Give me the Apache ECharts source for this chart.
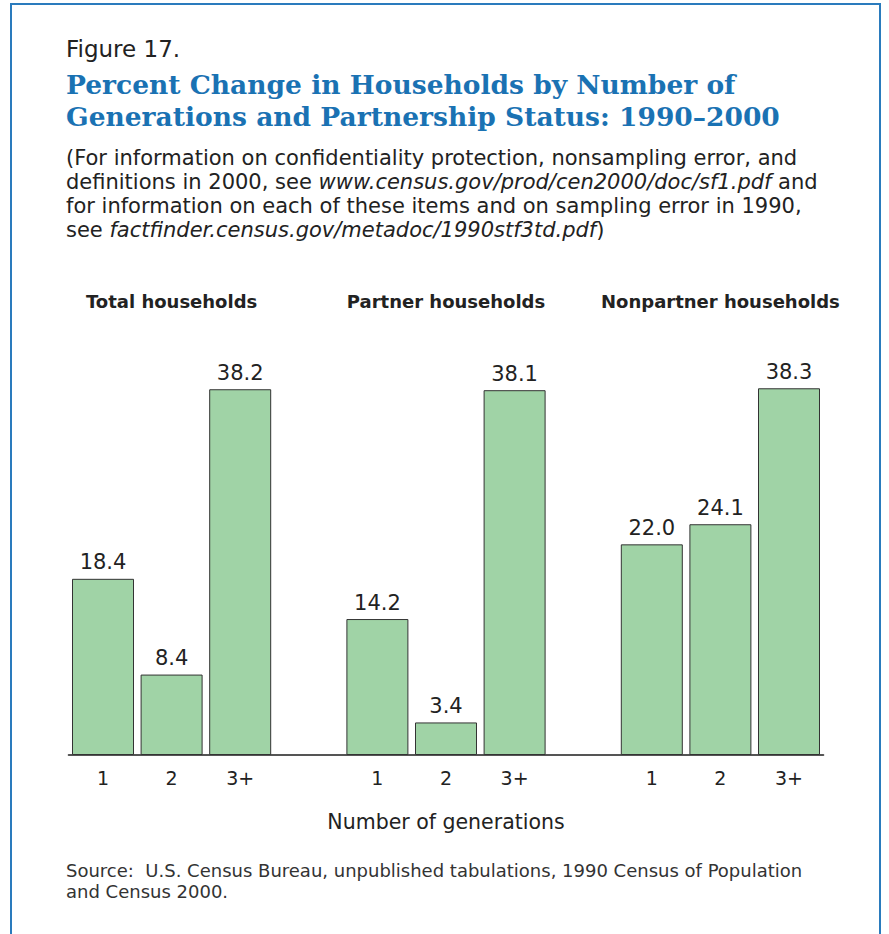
<!DOCTYPE html>
<html lang="en">
<head>
  <meta charset="UTF-8">
  <title>Figure 17. Percent Change in Households</title>
  <script src="https://cdn.jsdelivr.net/npm/echarts/dist/echarts.min.js"></script>
  <style>
    html, body {
      margin: 0;
      padding: 0;
      background: #ffffff;
    }
    #chart {
      width: 889px;
      height: 934px;
    }
  </style>
</head>
<body>
  <div id="chart"></div>

  <script>
    // data
    const groupNames = ['Total households', 'Partner households', 'Nonpartner households'];
    const generations = ['1', '2', '3+'];
    const totalValues = [18.4, 8.4, 38.2];
    const partnerValues = [14.2, 3.4, 38.1];
    const nonpartnerValues = [22.0, 24.1, 38.3];

    const sansFont = "'DejaVu Sans', sans-serif";
    const serifFont = "'DejaVu Serif', serif";
    const blue = '#1a72b3';

    // one category axis, with an empty slot between groups
    const categories = [];
    const headings = [];
    const values = [];
    [totalValues, partnerValues, nonpartnerValues].forEach(function (group, g) {
      if (g > 0) {
        categories.push('');
        headings.push('');
        values.push(null);
      }
      generations.forEach(function (gen, i) {
        categories.push(gen);
        headings.push(i === 1 ? groupNames[g] : '');
        values.push(group[i]);
      });
    });

    const chart = echarts.init(document.getElementById('chart'), null, { renderer: 'svg' });

    const option = {
      animation: false,
      title: [
        {
          text: 'Figure 17.',
          left: 66,
          top: 37,
          padding: 0,
          textStyle: { fontFamily: sansFont, fontSize: 23, fontWeight: 'normal', color: '#222' }
        },
        {
          text: 'Percent Change in Households by Number of\nGenerations and Partnership Status: 1990–2000',
          left: 66,
          top: 68,
          padding: 0,
          textStyle: { fontFamily: serifFont, fontSize: 26.5, fontWeight: 'bold', color: blue, lineHeight: 32 }
        },
        {
          text: '(For information on confidentiality protection, nonsampling error, and\n' +
                'definitions in 2000, see {i|www.census.gov/prod/cen2000/doc/sf1.pdf} and\n' +
                'for information on each of these items and on sampling error in 1990,\n' +
                'see {i|factfinder.census.gov/metadoc/1990stf3td.pdf})',
          left: 66,
          top: 146,
          padding: 0,
          textStyle: {
            fontFamily: sansFont, fontSize: 21, fontWeight: 'normal', color: '#222', lineHeight: 24,
            rich: {
              i: { fontFamily: sansFont, fontSize: 21, fontStyle: 'italic', color: '#222', lineHeight: 24 }
            }
          }
        },
        {
          text: 'Source:  U.S. Census Bureau, unpublished tabulations, 1990 Census of Population\nand Census 2000.',
          left: 66,
          top: 860,
          padding: 0,
          textStyle: { fontFamily: sansFont, fontSize: 18, fontWeight: 'normal', color: '#333', lineHeight: 21 }
        }
      ],
      graphic: [
        {
          type: 'rect',
          shape: { x: 11, y: 4, width: 869, height: 980 },
          style: { fill: 'none', stroke: '#2a7bbd', lineWidth: 2 },
          silent: true
        }
      ],
      grid: {
        left: 68.7,
        width: 754.6,
        top: 372,
        height: 383
      },
      xAxis: [
        {
          type: 'category',
          data: categories,
          position: 'bottom',
          axisLine: { lineStyle: { color: '#555', width: 2 } },
          axisTick: { show: false },
          axisLabel: {
            interval: 0,
            margin: 13,
            fontFamily: sansFont,
            fontSize: 19,
            color: '#222'
          },
          name: 'Number of generations',
          nameLocation: 'middle',
          nameGap: 56,
          nameTextStyle: { fontFamily: sansFont, fontSize: 20.5, color: '#222' }
        },
        {
          type: 'category',
          data: headings,
          position: 'top',
          axisLine: { show: false },
          axisTick: { show: false },
          axisLabel: {
            interval: 0,
            margin: 62,
            fontFamily: sansFont,
            fontSize: 18,
            fontWeight: 'bold',
            color: '#222'
          }
        }
      ],
      yAxis: {
        type: 'value',
        min: 0,
        max: 40,
        show: false,
        splitLine: { show: false }
      },
      series: [
        {
          type: 'bar',
          data: values,
          barWidth: 62,
          itemStyle: {
            color: '#a0d3a6',
            borderColor: '#333',
            borderWidth: 1
          },
          label: {
            show: true,
            position: 'top',
            distance: 6,
            fontFamily: sansFont,
            fontSize: 21,
            color: '#222',
            formatter: function (p) {
              return p.value.toFixed(1);
            }
          }
        }
      ]
    };

    chart.setOption(option);
  </script>
</body>
</html>
